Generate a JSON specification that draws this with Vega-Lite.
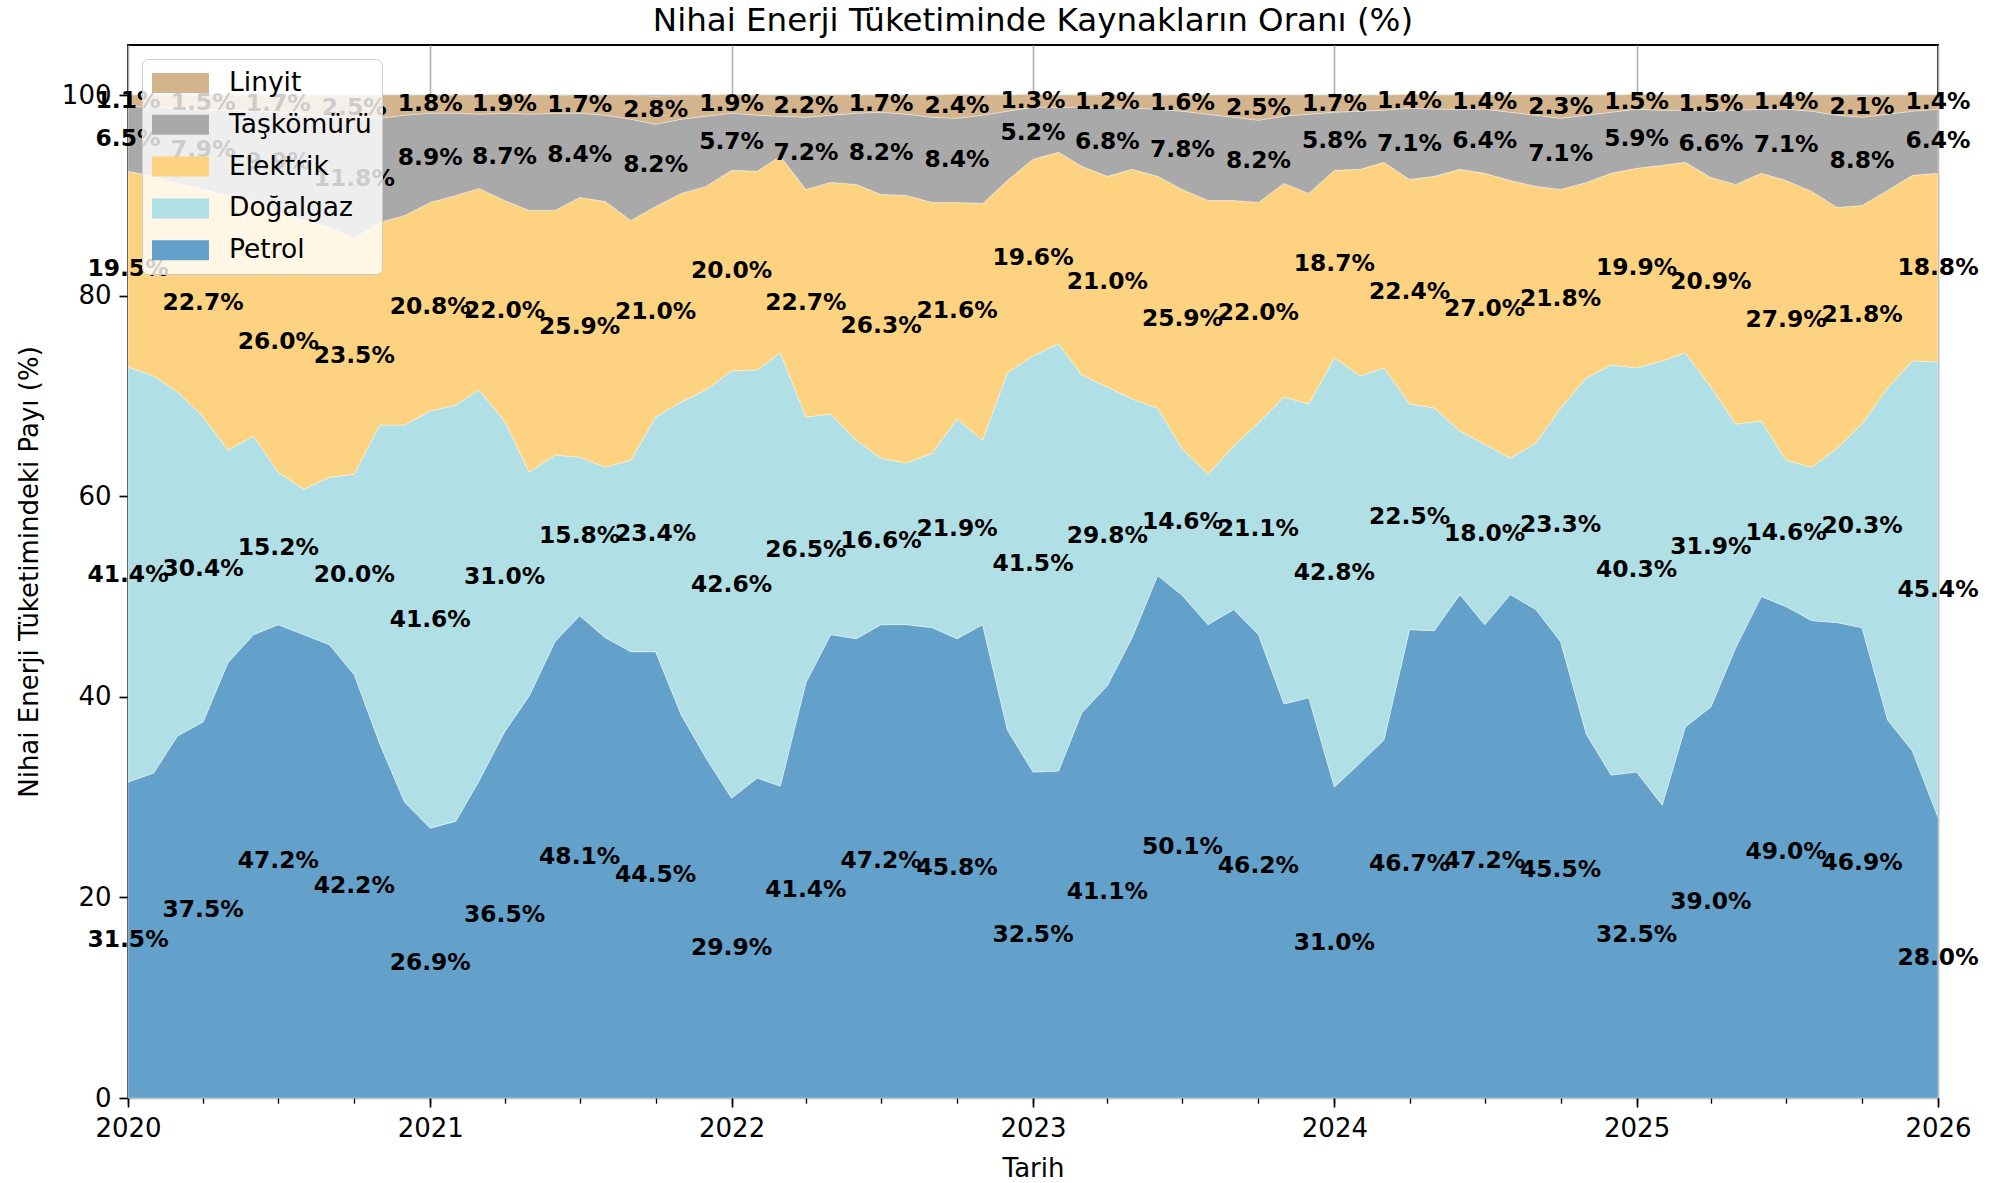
{
  "$schema": "https://vega.github.io/schema/vega-lite/v6.json",
  "autosize": {"type": "none"},
  "width": 1810,
  "height": 1053,
  "padding": {"left": 128, "top": 45, "right": 57, "bottom": 85},
  "background": "white",
  "title": {"text": "Nihai Enerji Tüketiminde Kaynakların Oranı (%)", "font": "DejaVu Sans", "fontSize": 32.5, "fontWeight": "normal", "color": "black", "anchor": "middle", "offset": 8},
  "config": {
    "view": {"stroke": "black", "strokeWidth": 1.8},
    "axis": {"labelFont": "DejaVu Sans", "labelFontSize": 26, "titleFont": "DejaVu Sans", "titleFontSize": 26, "titleFontWeight": "normal", "labelColor": "black", "titleColor": "black", "tickColor": "black", "tickWidth": 1.7, "tickSize": 9, "labelPadding": 8, "gridColor": "#b0b0b0", "gridWidth": 1.6, "domain": false, "zindex": 1, "labelOverlap": false},
    "legend": {"labelFont": "DejaVu Sans", "labelFontSize": 26.5, "labelColor": "black"}
  },
  "data": {
    "format": {"parse": {"tarih": "date"}},
    "values": [
{"tarih":"2020-01-01T00:00","kaynak":"Petrol","pay":31.5},{"tarih":"2020-01-01T00:00","kaynak":"Doğalgaz","pay":41.4},{"tarih":"2020-01-01T00:00","kaynak":"Elektrik","pay":19.5},{"tarih":"2020-01-01T00:00","kaynak":"Taşkömürü","pay":6.5},{"tarih":"2020-01-01T00:00","kaynak":"Linyit","pay":1.1},
{"tarih":"2020-02-01T00:00","kaynak":"Petrol","pay":32.4},{"tarih":"2020-02-01T00:00","kaynak":"Doğalgaz","pay":39.6},{"tarih":"2020-02-01T00:00","kaynak":"Elektrik","pay":19.9},{"tarih":"2020-02-01T00:00","kaynak":"Taşkömürü","pay":6.9},{"tarih":"2020-02-01T00:00","kaynak":"Linyit","pay":1.2},
{"tarih":"2020-03-01T00:00","kaynak":"Petrol","pay":36.1},{"tarih":"2020-03-01T00:00","kaynak":"Doğalgaz","pay":34.3},{"tarih":"2020-03-01T00:00","kaynak":"Elektrik","pay":20.8},{"tarih":"2020-03-01T00:00","kaynak":"Taşkömürü","pay":7.5},{"tarih":"2020-03-01T00:00","kaynak":"Linyit","pay":1.3},
{"tarih":"2020-04-01T00:00","kaynak":"Petrol","pay":37.5},{"tarih":"2020-04-01T00:00","kaynak":"Doğalgaz","pay":30.4},{"tarih":"2020-04-01T00:00","kaynak":"Elektrik","pay":22.7},{"tarih":"2020-04-01T00:00","kaynak":"Taşkömürü","pay":7.9},{"tarih":"2020-04-01T00:00","kaynak":"Linyit","pay":1.5},
{"tarih":"2020-05-01T00:00","kaynak":"Petrol","pay":43.4},{"tarih":"2020-05-01T00:00","kaynak":"Doğalgaz","pay":21.2},{"tarih":"2020-05-01T00:00","kaynak":"Elektrik","pay":25.4},{"tarih":"2020-05-01T00:00","kaynak":"Taşkömürü","pay":8.5},{"tarih":"2020-05-01T00:00","kaynak":"Linyit","pay":1.5},
{"tarih":"2020-06-01T00:00","kaynak":"Petrol","pay":46.2},{"tarih":"2020-06-01T00:00","kaynak":"Doğalgaz","pay":19.8},{"tarih":"2020-06-01T00:00","kaynak":"Elektrik","pay":23.5},{"tarih":"2020-06-01T00:00","kaynak":"Taşkömürü","pay":8.9},{"tarih":"2020-06-01T00:00","kaynak":"Linyit","pay":1.6},
{"tarih":"2020-07-01T00:00","kaynak":"Petrol","pay":47.2},{"tarih":"2020-07-01T00:00","kaynak":"Doğalgaz","pay":15.2},{"tarih":"2020-07-01T00:00","kaynak":"Elektrik","pay":26.0},{"tarih":"2020-07-01T00:00","kaynak":"Taşkömürü","pay":9.9},{"tarih":"2020-07-01T00:00","kaynak":"Linyit","pay":1.7},
{"tarih":"2020-08-01T00:00","kaynak":"Petrol","pay":46.2},{"tarih":"2020-08-01T00:00","kaynak":"Doğalgaz","pay":14.5},{"tarih":"2020-08-01T00:00","kaynak":"Elektrik","pay":26.8},{"tarih":"2020-08-01T00:00","kaynak":"Taşkömürü","pay":10.6},{"tarih":"2020-08-01T00:00","kaynak":"Linyit","pay":1.9},
{"tarih":"2020-09-01T00:00","kaynak":"Petrol","pay":45.2},{"tarih":"2020-09-01T00:00","kaynak":"Doğalgaz","pay":16.7},{"tarih":"2020-09-01T00:00","kaynak":"Elektrik","pay":24.9},{"tarih":"2020-09-01T00:00","kaynak":"Taşkömürü","pay":11.0},{"tarih":"2020-09-01T00:00","kaynak":"Linyit","pay":2.2},
{"tarih":"2020-10-01T00:00","kaynak":"Petrol","pay":42.2},{"tarih":"2020-10-01T00:00","kaynak":"Doğalgaz","pay":20.0},{"tarih":"2020-10-01T00:00","kaynak":"Elektrik","pay":23.5},{"tarih":"2020-10-01T00:00","kaynak":"Taşkömürü","pay":11.8},{"tarih":"2020-10-01T00:00","kaynak":"Linyit","pay":2.5},
{"tarih":"2020-11-01T00:00","kaynak":"Petrol","pay":35.3},{"tarih":"2020-11-01T00:00","kaynak":"Doğalgaz","pay":31.8},{"tarih":"2020-11-01T00:00","kaynak":"Elektrik","pay":20.2},{"tarih":"2020-11-01T00:00","kaynak":"Taşkömürü","pay":10.4},{"tarih":"2020-11-01T00:00","kaynak":"Linyit","pay":2.3},
{"tarih":"2020-12-01T00:00","kaynak":"Petrol","pay":29.5},{"tarih":"2020-12-01T00:00","kaynak":"Doğalgaz","pay":37.6},{"tarih":"2020-12-01T00:00","kaynak":"Elektrik","pay":20.9},{"tarih":"2020-12-01T00:00","kaynak":"Taşkömürü","pay":10.0},{"tarih":"2020-12-01T00:00","kaynak":"Linyit","pay":2.0},
{"tarih":"2021-01-01T00:00","kaynak":"Petrol","pay":26.9},{"tarih":"2021-01-01T00:00","kaynak":"Doğalgaz","pay":41.6},{"tarih":"2021-01-01T00:00","kaynak":"Elektrik","pay":20.8},{"tarih":"2021-01-01T00:00","kaynak":"Taşkömürü","pay":8.9},{"tarih":"2021-01-01T00:00","kaynak":"Linyit","pay":1.8},
{"tarih":"2021-02-01T00:00","kaynak":"Petrol","pay":27.6},{"tarih":"2021-02-01T00:00","kaynak":"Doğalgaz","pay":41.5},{"tarih":"2021-02-01T00:00","kaynak":"Elektrik","pay":20.9},{"tarih":"2021-02-01T00:00","kaynak":"Taşkömürü","pay":8.2},{"tarih":"2021-02-01T00:00","kaynak":"Linyit","pay":1.8},
{"tarih":"2021-03-01T00:00","kaynak":"Petrol","pay":31.6},{"tarih":"2021-03-01T00:00","kaynak":"Doğalgaz","pay":39.0},{"tarih":"2021-03-01T00:00","kaynak":"Elektrik","pay":20.1},{"tarih":"2021-03-01T00:00","kaynak":"Taşkömürü","pay":7.4},{"tarih":"2021-03-01T00:00","kaynak":"Linyit","pay":1.9},
{"tarih":"2021-04-01T00:00","kaynak":"Petrol","pay":36.5},{"tarih":"2021-04-01T00:00","kaynak":"Doğalgaz","pay":31.0},{"tarih":"2021-04-01T00:00","kaynak":"Elektrik","pay":22.0},{"tarih":"2021-04-01T00:00","kaynak":"Taşkömürü","pay":8.7},{"tarih":"2021-04-01T00:00","kaynak":"Linyit","pay":1.9},
{"tarih":"2021-05-01T00:00","kaynak":"Petrol","pay":40.1},{"tarih":"2021-05-01T00:00","kaynak":"Doğalgaz","pay":22.3},{"tarih":"2021-05-01T00:00","kaynak":"Elektrik","pay":26.1},{"tarih":"2021-05-01T00:00","kaynak":"Taşkömürü","pay":9.6},{"tarih":"2021-05-01T00:00","kaynak":"Linyit","pay":1.9},
{"tarih":"2021-06-01T00:00","kaynak":"Petrol","pay":45.5},{"tarih":"2021-06-01T00:00","kaynak":"Doğalgaz","pay":18.6},{"tarih":"2021-06-01T00:00","kaynak":"Elektrik","pay":24.4},{"tarih":"2021-06-01T00:00","kaynak":"Taşkömürü","pay":9.7},{"tarih":"2021-06-01T00:00","kaynak":"Linyit","pay":1.8},
{"tarih":"2021-07-01T00:00","kaynak":"Petrol","pay":48.1},{"tarih":"2021-07-01T00:00","kaynak":"Doğalgaz","pay":15.8},{"tarih":"2021-07-01T00:00","kaynak":"Elektrik","pay":25.9},{"tarih":"2021-07-01T00:00","kaynak":"Taşkömürü","pay":8.4},{"tarih":"2021-07-01T00:00","kaynak":"Linyit","pay":1.7},
{"tarih":"2021-08-01T00:00","kaynak":"Petrol","pay":45.9},{"tarih":"2021-08-01T00:00","kaynak":"Doğalgaz","pay":17.0},{"tarih":"2021-08-01T00:00","kaynak":"Elektrik","pay":26.5},{"tarih":"2021-08-01T00:00","kaynak":"Taşkömürü","pay":8.6},{"tarih":"2021-08-01T00:00","kaynak":"Linyit","pay":2.0},
{"tarih":"2021-09-01T00:00","kaynak":"Petrol","pay":44.5},{"tarih":"2021-09-01T00:00","kaynak":"Doğalgaz","pay":19.1},{"tarih":"2021-09-01T00:00","kaynak":"Elektrik","pay":23.9},{"tarih":"2021-09-01T00:00","kaynak":"Taşkömürü","pay":10.1},{"tarih":"2021-09-01T00:00","kaynak":"Linyit","pay":2.4},
{"tarih":"2021-10-01T00:00","kaynak":"Petrol","pay":44.5},{"tarih":"2021-10-01T00:00","kaynak":"Doğalgaz","pay":23.4},{"tarih":"2021-10-01T00:00","kaynak":"Elektrik","pay":21.0},{"tarih":"2021-10-01T00:00","kaynak":"Taşkömürü","pay":8.2},{"tarih":"2021-10-01T00:00","kaynak":"Linyit","pay":2.8},
{"tarih":"2021-11-01T00:00","kaynak":"Petrol","pay":38.2},{"tarih":"2021-11-01T00:00","kaynak":"Doğalgaz","pay":31.2},{"tarih":"2021-11-01T00:00","kaynak":"Elektrik","pay":20.8},{"tarih":"2021-11-01T00:00","kaynak":"Taşkömürü","pay":7.4},{"tarih":"2021-11-01T00:00","kaynak":"Linyit","pay":2.4},
{"tarih":"2021-12-01T00:00","kaynak":"Petrol","pay":33.9},{"tarih":"2021-12-01T00:00","kaynak":"Doğalgaz","pay":36.7},{"tarih":"2021-12-01T00:00","kaynak":"Elektrik","pay":20.3},{"tarih":"2021-12-01T00:00","kaynak":"Taşkömürü","pay":7.0},{"tarih":"2021-12-01T00:00","kaynak":"Linyit","pay":2.1},
{"tarih":"2022-01-01T00:00","kaynak":"Petrol","pay":29.9},{"tarih":"2022-01-01T00:00","kaynak":"Doğalgaz","pay":42.6},{"tarih":"2022-01-01T00:00","kaynak":"Elektrik","pay":20.0},{"tarih":"2022-01-01T00:00","kaynak":"Taşkömürü","pay":5.7},{"tarih":"2022-01-01T00:00","kaynak":"Linyit","pay":1.9},
{"tarih":"2022-02-01T00:00","kaynak":"Petrol","pay":31.9},{"tarih":"2022-02-01T00:00","kaynak":"Doğalgaz","pay":40.7},{"tarih":"2022-02-01T00:00","kaynak":"Elektrik","pay":19.8},{"tarih":"2022-02-01T00:00","kaynak":"Taşkömürü","pay":5.6},{"tarih":"2022-02-01T00:00","kaynak":"Linyit","pay":2.0},
{"tarih":"2022-03-01T00:00","kaynak":"Petrol","pay":31.1},{"tarih":"2022-03-01T00:00","kaynak":"Doğalgaz","pay":43.2},{"tarih":"2022-03-01T00:00","kaynak":"Elektrik","pay":19.6},{"tarih":"2022-03-01T00:00","kaynak":"Taşkömürü","pay":4.0},{"tarih":"2022-03-01T00:00","kaynak":"Linyit","pay":2.1},
{"tarih":"2022-04-01T00:00","kaynak":"Petrol","pay":41.4},{"tarih":"2022-04-01T00:00","kaynak":"Doğalgaz","pay":26.5},{"tarih":"2022-04-01T00:00","kaynak":"Elektrik","pay":22.7},{"tarih":"2022-04-01T00:00","kaynak":"Taşkömürü","pay":7.2},{"tarih":"2022-04-01T00:00","kaynak":"Linyit","pay":2.2},
{"tarih":"2022-05-01T00:00","kaynak":"Petrol","pay":46.2},{"tarih":"2022-05-01T00:00","kaynak":"Doğalgaz","pay":22.0},{"tarih":"2022-05-01T00:00","kaynak":"Elektrik","pay":23.1},{"tarih":"2022-05-01T00:00","kaynak":"Taşkömürü","pay":6.7},{"tarih":"2022-05-01T00:00","kaynak":"Linyit","pay":2.0},
{"tarih":"2022-06-01T00:00","kaynak":"Petrol","pay":45.8},{"tarih":"2022-06-01T00:00","kaynak":"Doğalgaz","pay":19.8},{"tarih":"2022-06-01T00:00","kaynak":"Elektrik","pay":25.5},{"tarih":"2022-06-01T00:00","kaynak":"Taşkömürü","pay":7.1},{"tarih":"2022-06-01T00:00","kaynak":"Linyit","pay":1.8},
{"tarih":"2022-07-01T00:00","kaynak":"Petrol","pay":47.2},{"tarih":"2022-07-01T00:00","kaynak":"Doğalgaz","pay":16.6},{"tarih":"2022-07-01T00:00","kaynak":"Elektrik","pay":26.3},{"tarih":"2022-07-01T00:00","kaynak":"Taşkömürü","pay":8.2},{"tarih":"2022-07-01T00:00","kaynak":"Linyit","pay":1.7},
{"tarih":"2022-08-01T00:00","kaynak":"Petrol","pay":47.2},{"tarih":"2022-08-01T00:00","kaynak":"Doğalgaz","pay":16.1},{"tarih":"2022-08-01T00:00","kaynak":"Elektrik","pay":26.7},{"tarih":"2022-08-01T00:00","kaynak":"Taşkömürü","pay":8.1},{"tarih":"2022-08-01T00:00","kaynak":"Linyit","pay":1.9},
{"tarih":"2022-09-01T00:00","kaynak":"Petrol","pay":46.9},{"tarih":"2022-09-01T00:00","kaynak":"Doğalgaz","pay":17.4},{"tarih":"2022-09-01T00:00","kaynak":"Elektrik","pay":25.0},{"tarih":"2022-09-01T00:00","kaynak":"Taşkömürü","pay":8.5},{"tarih":"2022-09-01T00:00","kaynak":"Linyit","pay":2.2},
{"tarih":"2022-10-01T00:00","kaynak":"Petrol","pay":45.8},{"tarih":"2022-10-01T00:00","kaynak":"Doğalgaz","pay":21.9},{"tarih":"2022-10-01T00:00","kaynak":"Elektrik","pay":21.6},{"tarih":"2022-10-01T00:00","kaynak":"Taşkömürü","pay":8.4},{"tarih":"2022-10-01T00:00","kaynak":"Linyit","pay":2.4},
{"tarih":"2022-11-01T00:00","kaynak":"Petrol","pay":47.2},{"tarih":"2022-11-01T00:00","kaynak":"Doğalgaz","pay":18.4},{"tarih":"2022-11-01T00:00","kaynak":"Elektrik","pay":23.6},{"tarih":"2022-11-01T00:00","kaynak":"Taşkömürü","pay":8.8},{"tarih":"2022-11-01T00:00","kaynak":"Linyit","pay":2.0},
{"tarih":"2022-12-01T00:00","kaynak":"Petrol","pay":36.7},{"tarih":"2022-12-01T00:00","kaynak":"Doğalgaz","pay":35.6},{"tarih":"2022-12-01T00:00","kaynak":"Elektrik","pay":19.2},{"tarih":"2022-12-01T00:00","kaynak":"Taşkömürü","pay":6.9},{"tarih":"2022-12-01T00:00","kaynak":"Linyit","pay":1.6},
{"tarih":"2023-01-01T00:00","kaynak":"Petrol","pay":32.5},{"tarih":"2023-01-01T00:00","kaynak":"Doğalgaz","pay":41.5},{"tarih":"2023-01-01T00:00","kaynak":"Elektrik","pay":19.6},{"tarih":"2023-01-01T00:00","kaynak":"Taşkömürü","pay":5.2},{"tarih":"2023-01-01T00:00","kaynak":"Linyit","pay":1.3},
{"tarih":"2023-02-01T00:00","kaynak":"Petrol","pay":32.6},{"tarih":"2023-02-01T00:00","kaynak":"Doğalgaz","pay":42.6},{"tarih":"2023-02-01T00:00","kaynak":"Elektrik","pay":19.1},{"tarih":"2023-02-01T00:00","kaynak":"Taşkömürü","pay":4.5},{"tarih":"2023-02-01T00:00","kaynak":"Linyit","pay":1.2},
{"tarih":"2023-03-01T00:00","kaynak":"Petrol","pay":38.4},{"tarih":"2023-03-01T00:00","kaynak":"Doğalgaz","pay":33.7},{"tarih":"2023-03-01T00:00","kaynak":"Elektrik","pay":20.8},{"tarih":"2023-03-01T00:00","kaynak":"Taşkömürü","pay":5.9},{"tarih":"2023-03-01T00:00","kaynak":"Linyit","pay":1.2},
{"tarih":"2023-04-01T00:00","kaynak":"Petrol","pay":41.1},{"tarih":"2023-04-01T00:00","kaynak":"Doğalgaz","pay":29.8},{"tarih":"2023-04-01T00:00","kaynak":"Elektrik","pay":21.0},{"tarih":"2023-04-01T00:00","kaynak":"Taşkömürü","pay":6.8},{"tarih":"2023-04-01T00:00","kaynak":"Linyit","pay":1.2},
{"tarih":"2023-05-01T00:00","kaynak":"Petrol","pay":45.9},{"tarih":"2023-05-01T00:00","kaynak":"Doğalgaz","pay":23.8},{"tarih":"2023-05-01T00:00","kaynak":"Elektrik","pay":22.9},{"tarih":"2023-05-01T00:00","kaynak":"Taşkömürü","pay":6.1},{"tarih":"2023-05-01T00:00","kaynak":"Linyit","pay":1.3},
{"tarih":"2023-06-01T00:00","kaynak":"Petrol","pay":52.1},{"tarih":"2023-06-01T00:00","kaynak":"Doğalgaz","pay":16.7},{"tarih":"2023-06-01T00:00","kaynak":"Elektrik","pay":23.1},{"tarih":"2023-06-01T00:00","kaynak":"Taşkömürü","pay":6.7},{"tarih":"2023-06-01T00:00","kaynak":"Linyit","pay":1.4},
{"tarih":"2023-07-01T00:00","kaynak":"Petrol","pay":50.1},{"tarih":"2023-07-01T00:00","kaynak":"Doğalgaz","pay":14.6},{"tarih":"2023-07-01T00:00","kaynak":"Elektrik","pay":25.9},{"tarih":"2023-07-01T00:00","kaynak":"Taşkömürü","pay":7.8},{"tarih":"2023-07-01T00:00","kaynak":"Linyit","pay":1.6},
{"tarih":"2023-08-01T00:00","kaynak":"Petrol","pay":47.2},{"tarih":"2023-08-01T00:00","kaynak":"Doğalgaz","pay":15.0},{"tarih":"2023-08-01T00:00","kaynak":"Elektrik","pay":27.3},{"tarih":"2023-08-01T00:00","kaynak":"Taşkömürü","pay":8.6},{"tarih":"2023-08-01T00:00","kaynak":"Linyit","pay":1.9},
{"tarih":"2023-09-01T00:00","kaynak":"Petrol","pay":48.7},{"tarih":"2023-09-01T00:00","kaynak":"Doğalgaz","pay":16.3},{"tarih":"2023-09-01T00:00","kaynak":"Elektrik","pay":24.5},{"tarih":"2023-09-01T00:00","kaynak":"Taşkömürü","pay":8.3},{"tarih":"2023-09-01T00:00","kaynak":"Linyit","pay":2.2},
{"tarih":"2023-10-01T00:00","kaynak":"Petrol","pay":46.2},{"tarih":"2023-10-01T00:00","kaynak":"Doğalgaz","pay":21.1},{"tarih":"2023-10-01T00:00","kaynak":"Elektrik","pay":22.0},{"tarih":"2023-10-01T00:00","kaynak":"Taşkömürü","pay":8.2},{"tarih":"2023-10-01T00:00","kaynak":"Linyit","pay":2.5},
{"tarih":"2023-11-01T00:00","kaynak":"Petrol","pay":39.3},{"tarih":"2023-11-01T00:00","kaynak":"Doğalgaz","pay":30.6},{"tarih":"2023-11-01T00:00","kaynak":"Elektrik","pay":21.3},{"tarih":"2023-11-01T00:00","kaynak":"Taşkömürü","pay":6.7},{"tarih":"2023-11-01T00:00","kaynak":"Linyit","pay":2.1},
{"tarih":"2023-12-01T00:00","kaynak":"Petrol","pay":39.9},{"tarih":"2023-12-01T00:00","kaynak":"Doğalgaz","pay":29.3},{"tarih":"2023-12-01T00:00","kaynak":"Elektrik","pay":21.0},{"tarih":"2023-12-01T00:00","kaynak":"Taşkömürü","pay":7.9},{"tarih":"2023-12-01T00:00","kaynak":"Linyit","pay":1.9},
{"tarih":"2024-01-01T00:00","kaynak":"Petrol","pay":31.0},{"tarih":"2024-01-01T00:00","kaynak":"Doğalgaz","pay":42.8},{"tarih":"2024-01-01T00:00","kaynak":"Elektrik","pay":18.7},{"tarih":"2024-01-01T00:00","kaynak":"Taşkömürü","pay":5.8},{"tarih":"2024-01-01T00:00","kaynak":"Linyit","pay":1.7},
{"tarih":"2024-02-01T00:00","kaynak":"Petrol","pay":33.4},{"tarih":"2024-02-01T00:00","kaynak":"Doğalgaz","pay":38.6},{"tarih":"2024-02-01T00:00","kaynak":"Elektrik","pay":20.6},{"tarih":"2024-02-01T00:00","kaynak":"Taşkömürü","pay":5.8},{"tarih":"2024-02-01T00:00","kaynak":"Linyit","pay":1.6},
{"tarih":"2024-03-01T00:00","kaynak":"Petrol","pay":35.7},{"tarih":"2024-03-01T00:00","kaynak":"Doğalgaz","pay":37.1},{"tarih":"2024-03-01T00:00","kaynak":"Elektrik","pay":20.5},{"tarih":"2024-03-01T00:00","kaynak":"Taşkömürü","pay":5.2},{"tarih":"2024-03-01T00:00","kaynak":"Linyit","pay":1.5},
{"tarih":"2024-04-01T00:00","kaynak":"Petrol","pay":46.7},{"tarih":"2024-04-01T00:00","kaynak":"Doğalgaz","pay":22.5},{"tarih":"2024-04-01T00:00","kaynak":"Elektrik","pay":22.4},{"tarih":"2024-04-01T00:00","kaynak":"Taşkömürü","pay":7.1},{"tarih":"2024-04-01T00:00","kaynak":"Linyit","pay":1.4},
{"tarih":"2024-05-01T00:00","kaynak":"Petrol","pay":46.6},{"tarih":"2024-05-01T00:00","kaynak":"Doğalgaz","pay":22.2},{"tarih":"2024-05-01T00:00","kaynak":"Elektrik","pay":23.1},{"tarih":"2024-05-01T00:00","kaynak":"Taşkömürü","pay":6.7},{"tarih":"2024-05-01T00:00","kaynak":"Linyit","pay":1.4},
{"tarih":"2024-06-01T00:00","kaynak":"Petrol","pay":50.2},{"tarih":"2024-06-01T00:00","kaynak":"Doğalgaz","pay":16.3},{"tarih":"2024-06-01T00:00","kaynak":"Elektrik","pay":26.1},{"tarih":"2024-06-01T00:00","kaynak":"Taşkömürü","pay":6.0},{"tarih":"2024-06-01T00:00","kaynak":"Linyit","pay":1.4},
{"tarih":"2024-07-01T00:00","kaynak":"Petrol","pay":47.2},{"tarih":"2024-07-01T00:00","kaynak":"Doğalgaz","pay":18.0},{"tarih":"2024-07-01T00:00","kaynak":"Elektrik","pay":27.0},{"tarih":"2024-07-01T00:00","kaynak":"Taşkömürü","pay":6.4},{"tarih":"2024-07-01T00:00","kaynak":"Linyit","pay":1.4},
{"tarih":"2024-08-01T00:00","kaynak":"Petrol","pay":50.2},{"tarih":"2024-08-01T00:00","kaynak":"Doğalgaz","pay":13.6},{"tarih":"2024-08-01T00:00","kaynak":"Elektrik","pay":27.7},{"tarih":"2024-08-01T00:00","kaynak":"Taşkömürü","pay":6.8},{"tarih":"2024-08-01T00:00","kaynak":"Linyit","pay":1.7},
{"tarih":"2024-09-01T00:00","kaynak":"Petrol","pay":48.7},{"tarih":"2024-09-01T00:00","kaynak":"Doğalgaz","pay":16.6},{"tarih":"2024-09-01T00:00","kaynak":"Elektrik","pay":25.6},{"tarih":"2024-09-01T00:00","kaynak":"Taşkömürü","pay":7.1},{"tarih":"2024-09-01T00:00","kaynak":"Linyit","pay":2.0},
{"tarih":"2024-10-01T00:00","kaynak":"Petrol","pay":45.5},{"tarih":"2024-10-01T00:00","kaynak":"Doğalgaz","pay":23.3},{"tarih":"2024-10-01T00:00","kaynak":"Elektrik","pay":21.8},{"tarih":"2024-10-01T00:00","kaynak":"Taşkömürü","pay":7.1},{"tarih":"2024-10-01T00:00","kaynak":"Linyit","pay":2.3},
{"tarih":"2024-11-01T00:00","kaynak":"Petrol","pay":36.3},{"tarih":"2024-11-01T00:00","kaynak":"Doğalgaz","pay":35.5},{"tarih":"2024-11-01T00:00","kaynak":"Elektrik","pay":19.5},{"tarih":"2024-11-01T00:00","kaynak":"Taşkömürü","pay":6.7},{"tarih":"2024-11-01T00:00","kaynak":"Linyit","pay":2.0},
{"tarih":"2024-12-01T00:00","kaynak":"Petrol","pay":32.2},{"tarih":"2024-12-01T00:00","kaynak":"Doğalgaz","pay":40.9},{"tarih":"2024-12-01T00:00","kaynak":"Elektrik","pay":19.1},{"tarih":"2024-12-01T00:00","kaynak":"Taşkömürü","pay":6.1},{"tarih":"2024-12-01T00:00","kaynak":"Linyit","pay":1.7},
{"tarih":"2025-01-01T00:00","kaynak":"Petrol","pay":32.5},{"tarih":"2025-01-01T00:00","kaynak":"Doğalgaz","pay":40.3},{"tarih":"2025-01-01T00:00","kaynak":"Elektrik","pay":19.9},{"tarih":"2025-01-01T00:00","kaynak":"Taşkömürü","pay":5.9},{"tarih":"2025-01-01T00:00","kaynak":"Linyit","pay":1.5},
{"tarih":"2025-02-01T00:00","kaynak":"Petrol","pay":29.2},{"tarih":"2025-02-01T00:00","kaynak":"Doğalgaz","pay":44.3},{"tarih":"2025-02-01T00:00","kaynak":"Elektrik","pay":19.5},{"tarih":"2025-02-01T00:00","kaynak":"Taşkömürü","pay":5.5},{"tarih":"2025-02-01T00:00","kaynak":"Linyit","pay":1.5},
{"tarih":"2025-03-01T00:00","kaynak":"Petrol","pay":37.0},{"tarih":"2025-03-01T00:00","kaynak":"Doğalgaz","pay":37.3},{"tarih":"2025-03-01T00:00","kaynak":"Elektrik","pay":19.0},{"tarih":"2025-03-01T00:00","kaynak":"Taşkömürü","pay":5.2},{"tarih":"2025-03-01T00:00","kaynak":"Linyit","pay":1.5},
{"tarih":"2025-04-01T00:00","kaynak":"Petrol","pay":39.0},{"tarih":"2025-04-01T00:00","kaynak":"Doğalgaz","pay":31.9},{"tarih":"2025-04-01T00:00","kaynak":"Elektrik","pay":20.9},{"tarih":"2025-04-01T00:00","kaynak":"Taşkömürü","pay":6.6},{"tarih":"2025-04-01T00:00","kaynak":"Linyit","pay":1.5},
{"tarih":"2025-05-01T00:00","kaynak":"Petrol","pay":44.9},{"tarih":"2025-05-01T00:00","kaynak":"Doğalgaz","pay":22.3},{"tarih":"2025-05-01T00:00","kaynak":"Elektrik","pay":23.9},{"tarih":"2025-05-01T00:00","kaynak":"Taşkömürü","pay":7.4},{"tarih":"2025-05-01T00:00","kaynak":"Linyit","pay":1.5},
{"tarih":"2025-06-01T00:00","kaynak":"Petrol","pay":50.0},{"tarih":"2025-06-01T00:00","kaynak":"Doğalgaz","pay":17.5},{"tarih":"2025-06-01T00:00","kaynak":"Elektrik","pay":24.7},{"tarih":"2025-06-01T00:00","kaynak":"Taşkömürü","pay":6.4},{"tarih":"2025-06-01T00:00","kaynak":"Linyit","pay":1.4},
{"tarih":"2025-07-01T00:00","kaynak":"Petrol","pay":49.0},{"tarih":"2025-07-01T00:00","kaynak":"Doğalgaz","pay":14.6},{"tarih":"2025-07-01T00:00","kaynak":"Elektrik","pay":27.9},{"tarih":"2025-07-01T00:00","kaynak":"Taşkömürü","pay":7.1},{"tarih":"2025-07-01T00:00","kaynak":"Linyit","pay":1.4},
{"tarih":"2025-08-01T00:00","kaynak":"Petrol","pay":47.6},{"tarih":"2025-08-01T00:00","kaynak":"Doğalgaz","pay":15.3},{"tarih":"2025-08-01T00:00","kaynak":"Elektrik","pay":27.5},{"tarih":"2025-08-01T00:00","kaynak":"Taşkömürü","pay":8.0},{"tarih":"2025-08-01T00:00","kaynak":"Linyit","pay":1.6},
{"tarih":"2025-09-01T00:00","kaynak":"Petrol","pay":47.4},{"tarih":"2025-09-01T00:00","kaynak":"Doğalgaz","pay":17.4},{"tarih":"2025-09-01T00:00","kaynak":"Elektrik","pay":24.0},{"tarih":"2025-09-01T00:00","kaynak":"Taşkömürü","pay":9.2},{"tarih":"2025-09-01T00:00","kaynak":"Linyit","pay":2.0},
{"tarih":"2025-10-01T00:00","kaynak":"Petrol","pay":46.9},{"tarih":"2025-10-01T00:00","kaynak":"Doğalgaz","pay":20.3},{"tarih":"2025-10-01T00:00","kaynak":"Elektrik","pay":21.8},{"tarih":"2025-10-01T00:00","kaynak":"Taşkömürü","pay":8.8},{"tarih":"2025-10-01T00:00","kaynak":"Linyit","pay":2.1},
{"tarih":"2025-11-01T00:00","kaynak":"Petrol","pay":37.7},{"tarih":"2025-11-01T00:00","kaynak":"Doğalgaz","pay":33.1},{"tarih":"2025-11-01T00:00","kaynak":"Elektrik","pay":19.7},{"tarih":"2025-11-01T00:00","kaynak":"Taşkömürü","pay":7.6},{"tarih":"2025-11-01T00:00","kaynak":"Linyit","pay":1.9},
{"tarih":"2025-12-01T00:00","kaynak":"Petrol","pay":34.6},{"tarih":"2025-12-01T00:00","kaynak":"Doğalgaz","pay":38.9},{"tarih":"2025-12-01T00:00","kaynak":"Elektrik","pay":18.5},{"tarih":"2025-12-01T00:00","kaynak":"Taşkömürü","pay":6.4},{"tarih":"2025-12-01T00:00","kaynak":"Linyit","pay":1.6},
{"tarih":"2026-01-01T00:00","kaynak":"Petrol","pay":28.0},{"tarih":"2026-01-01T00:00","kaynak":"Doğalgaz","pay":45.4},{"tarih":"2026-01-01T00:00","kaynak":"Elektrik","pay":18.8},{"tarih":"2026-01-01T00:00","kaynak":"Taşkömürü","pay":6.4},{"tarih":"2026-01-01T00:00","kaynak":"Linyit","pay":1.4}
    ]
  },
  "transform": [
    {"stack": "pay", "groupby": ["tarih"], "as": ["y0", "y1"]}
  ],
  "layer": [
    {
      "mark": {"type": "area", "stroke": "white", "strokeWidth": 0.8, "strokeOpacity": 0.45},
      "encoding": {
        "x": {"field": "tarih", "type": "temporal", "title": "Tarih",
              "scale": {"domain": [{"year": 2020, "month": 1, "date": 1}, {"year": 2026, "month": 1, "date": 1}], "nice": false},
              "axis": {"format": "%Y", "tickCount": {"interval": "year", "step": 1}, "labelFlush": false, "grid": true, "orient": "bottom", "titlePadding": 14}},
        "y": {"field": "y1", "type": "quantitative", "title": "Nihai Enerji Tüketimindeki Payı (%)",
              "scale": {"domain": [0, 105], "nice": false},
              "axis": {"values": [0, 20, 40, 60, 80, 100], "grid": true, "titlePadding": 19, "orient": "left"}},
        "y2": {"field": "y0"},
        "color": {"field": "kaynak", "type": "nominal",
                  "scale": {"domain": ["Linyit", "Taşkömürü", "Elektrik", "Doğalgaz", "Petrol"], "range": ["#D3B48C", "#A9A9A9", "#FDD381", "#B0DFE5", "#63A1CB"]},
                  "legend": {"title": null, "orient": "top-left", "offset": 14, "fillColor": "rgba(255,255,255,0.8)", "strokeColor": "#cccccc", "cornerRadius": 6, "padding": 10, "symbolType": "M-1,-0.714H3.07V0.714H-1Z", "symbolSize": 784, "symbolStrokeWidth": 0, "symbolOpacity": 1, "rowPadding": 13.8, "labelOffset": 49, "zindex": 2}}
      }
    },
    {
      "transform": [
        {"filter": "month(datum.tarih) % 3 == 0"},
        {"calculate": "(datum.y0 + datum.y1) / 2", "as": "ym"},
        {"calculate": "format(datum.pay, '.1f') + '%'", "as": "etiket"}
      ],
      "mark": {"type": "text", "font": "DejaVu Sans", "fontSize": 23.4, "fontWeight": "bold", "color": "black", "align": "center", "baseline": "middle"},
      "encoding": {
        "x": {"field": "tarih", "type": "temporal",
              "scale": {"domain": [{"year": 2020, "month": 1, "date": 1}, {"year": 2026, "month": 1, "date": 1}], "nice": false},
              "axis": {"tickCount": {"interval": "month", "step": 3}, "labels": false, "grid": false, "title": null, "tickSize": 5.2, "tickWidth": 1.3, "orient": "bottom"}},
        "y": {"field": "ym", "type": "quantitative", "scale": {"domain": [0, 105], "nice": false}, "axis": null},
        "text": {"field": "etiket"}
      }
    }
  ],
  "resolve": {"axis": {"x": "independent", "y": "independent"}}
}
